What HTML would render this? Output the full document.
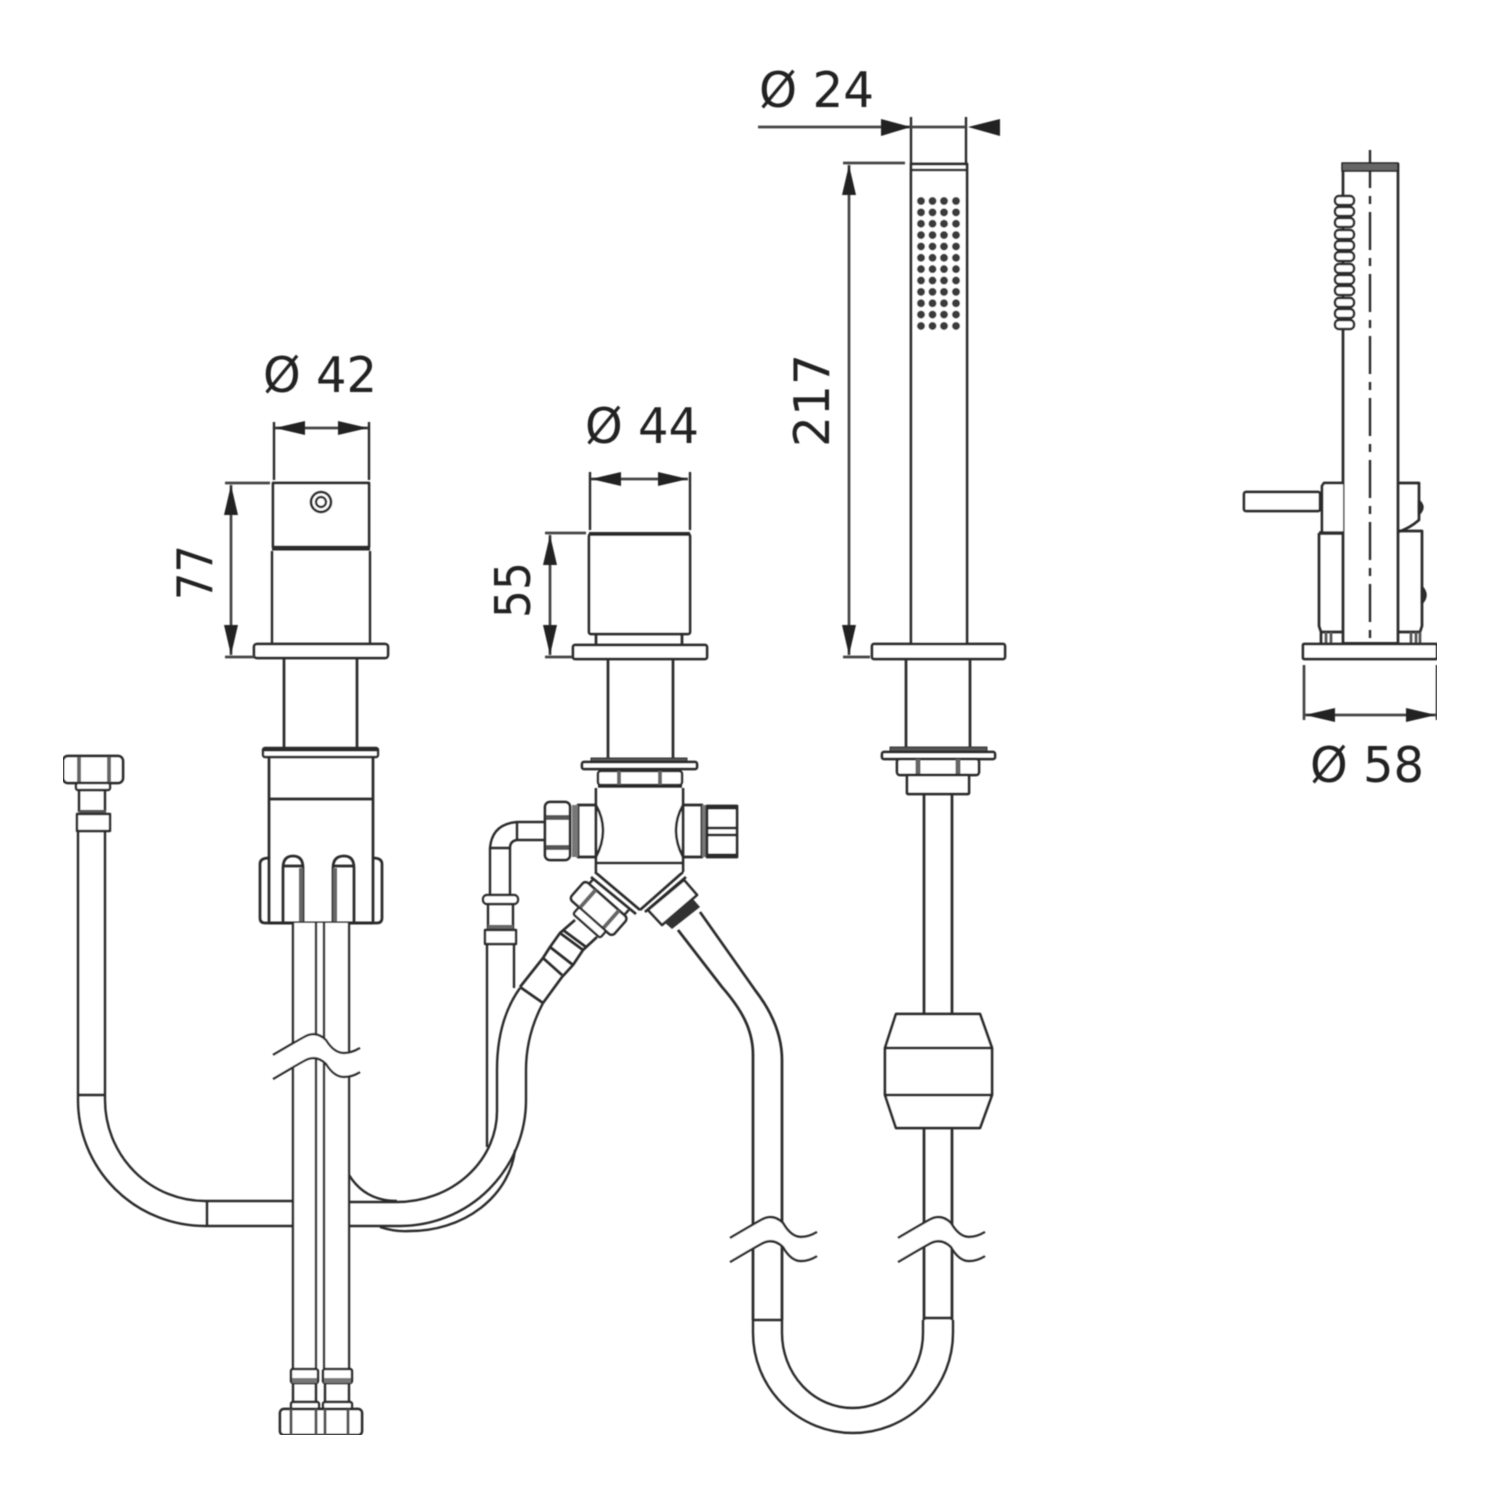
<!DOCTYPE html>
<html><head><meta charset="utf-8"><style>html,body{margin:0;padding:0;background:#fff}svg{display:block}text{font-family:"DejaVu Sans","Liberation Sans",sans-serif;font-size:49px;fill:#222}</style></head><body>
<svg width="1500" height="1500" viewBox="0 0 1500 1500" xmlns="http://www.w3.org/2000/svg">
<defs><filter id="soft" x="0" y="0" width="100%" height="100%"><feGaussianBlur stdDeviation="0.45"/></filter></defs>
<rect width="1500" height="1500" fill="#fff"/>
<g filter="url(#soft)">
<g fill="none" stroke="#2a2a2a" stroke-width="2.4" stroke-linejoin="round">

<!-- left flexible hose -->
<path d="M78 831V1100A127 126 0 0 0 205 1226H293M105 831V1100A100 101 0 0 0 205 1201H293M78 1095H105M207 1201V1226"/>
<path d="M349 1202H397A100 91 0 0 0 497 1110V1070Q497 1020 520 988"/>
<path d="M349 1175Q365 1201 397 1201M349 1226H400A126 126 0 0 0 526 1100V1070Q526 1035 543 1003"/>
<path d="M380 1227Q395 1232 410 1231A105 90 0 0 0 515 1150"/>
<path d="M487 944V1147M514 944V988"/>

<!-- left valve -->
<rect x="273" y="483" width="96" height="64" fill="#fff" stroke-width="2.7"/>
<path d="M274 422V480M369 422V480"/>
<path d="M272 549H370" stroke-width="3"/>
<path d="M272 551V645M370 551V645"/>
<circle cx="321" cy="502" r="10" stroke-width="2.7"/><circle cx="321" cy="502" r="5"/>
<rect x="254" y="644" width="134" height="14" rx="3" fill="#fff" stroke-width="2.7"/>
<path d="M284 658V748M357 658V748" stroke-width="2.7"/>
<rect x="263" y="748" width="115" height="9" rx="2" fill="#fff"/><path d="M263 749.500H378" stroke-width="4"/>
<path d="M269 757V923M373 757V923M269 799H373" stroke-width="2.7"/>
<path d="M269 858Q260 858 260 864V918Q260 923 265 923H377Q382 923 382 918V864Q382 858 373 858" stroke-width="2.7"/>
<path d="M283 923V868Q283 856 293 856Q303 856 303 868V923M283 866H303" stroke-width="2.7"/><path d="M301 868V923" stroke="#666" stroke-width="4"/>
<path d="M333 923V868Q333 856 344 856Q354 856 354 868V923M333 866H354" stroke-width="2.7"/><path d="M335 868V923" stroke="#666" stroke-width="4"/>
<path d="M269 923H373" stroke-width="3"/>

<!-- twin pipes -->
<rect x="293" y="923" width="56" height="446" fill="#fff" stroke="none"/>
<path d="M293 923V1369M316 923V1369M324 923V1369M349 923V1369"/>

<!-- twin connectors -->
<rect x="291" y="1369" width="27" height="14" rx="2" fill="#fff"/><rect x="292" y="1378" width="25" height="5" fill="#777" stroke="none"/>
<rect x="323" y="1369" width="29" height="14" rx="2" fill="#fff"/><rect x="324" y="1378" width="27" height="5" fill="#777" stroke="none"/>
<path d="M293 1383V1402M316 1383V1402M325 1383V1402M349 1383V1402"/>
<rect x="291" y="1402" width="28" height="7" rx="2" fill="#fff"/><rect x="323" y="1402" width="29" height="7" rx="2" fill="#fff"/>
<rect x="280" y="1409" width="82" height="26" rx="4" fill="#fff" stroke-width="2.7"/>
<path d="M291 1409V1435M316 1409V1435M325 1409V1435M348 1409V1435" stroke="#555" stroke-width="3"/>

<!-- top-left connector -->
<rect x="63" y="756" width="60" height="27" rx="5" fill="#fff" stroke-width="2.7"/>
<path d="M79 757V782M109 757V782" stroke="#666" stroke-width="4"/>
<rect x="76" y="783" width="34" height="7" rx="2" fill="#fff"/>
<path d="M79 790V812M105 790V812"/>
<rect x="79" y="810" width="27" height="4" fill="#555" stroke="none"/>
<rect x="77" y="814" width="33" height="17" fill="#fff"/>

<!-- elbow -->
<path d="M545 822H517Q492 824 490 848V895M545 840H517Q510 841 510 848V895M490 848H510M517 822V840"/>
<rect x="483" y="895" width="35" height="9" rx="4" fill="#fff"/>
<path d="M488 904V930M513 904V930"/>
<rect x="488" y="925" width="25" height="5" fill="#666" stroke="none"/>
<rect x="485" y="930" width="31" height="14" fill="#fff"/>

<!-- middle valve -->
<path d="M590 472V530M690 472V530"/>
<rect x="589" y="534" width="101" height="100" rx="2" fill="#fff" stroke-width="2.7"/><path d="M589 534H690" stroke-width="4"/>
<path d="M596 634V645M682 634V645" stroke-width="2.7"/>
<rect x="573" y="645" width="134" height="14" rx="2" fill="#fff" stroke-width="2.7"/>
<path d="M608 659V758M673 659V758" stroke-width="2.7"/>
<rect x="591" y="758" width="96" height="4" fill="#555" stroke="#333" stroke-width="1"/>
<rect x="582" y="762" width="115" height="7" rx="2" fill="#fff" stroke-width="2.7"/>
<rect x="598" y="771" width="84" height="14" rx="3" fill="#fff"/>
<path d="M619 771V785M660 771V785" stroke="#666" stroke-width="4"/>
<path d="M598 786.500H682" stroke-width="3.500"/>
<rect x="596" y="788" width="87" height="84" fill="#fff" stroke="none"/>
<path d="M596 788V872M683 788V872M596 863H683" stroke-width="2.7"/>
<path d="M596 805H578V857H596M596 805Q610 830 596 857" stroke-width="2.7"/>
<path d="M683 805H702V857H683M683 805Q669 830 683 857" stroke-width="2.7"/>
<rect x="572" y="805" width="6" height="52" fill="#777" stroke="none"/>
<rect x="702" y="805" width="5" height="52" fill="#777" stroke="none"/>
<rect x="545" y="802" width="25" height="58" rx="5" fill="#fff" stroke-width="2.7"/>
<rect x="546" y="815" width="23" height="5" fill="#555" stroke="none"/><rect x="546" y="845" width="23" height="5" fill="#555" stroke="none"/>
<rect x="707" y="806" width="30" height="51" fill="#fff" stroke-width="2.7"/>
<path d="M707 807.500H737M707 855.500H737" stroke-width="4"/>
<path d="M707 828H737M707 835H737" stroke-width="2.7"/>

<!-- Y left -->
<path d="M595 872L640 910M591 877L636 914" stroke-width="2.7"/>
<g transform="translate(617,890) rotate(41.5)">
<path d="M-25 7V14M22 7V14"/>
<rect x="-30" y="14" width="57" height="24" rx="4" fill="#fff" stroke-width="2.7"/>
<path d="M-16 14V38M15 14V38" stroke="#666" stroke-width="4"/>
<rect x="-17" y="38" width="36" height="9" rx="2" fill="#fff"/>
</g>
<path d="M575 920L560 933L550 947L543 958L520 987M597 937L583 950L573 965L562 977L543 1003" stroke-width="2.7"/>
<path d="M560 933L583 950M563 930L586 947M550 947L573 965M543 958L562 975M520 987L543 1003" stroke-width="2.7"/>

<!-- Y right -->
<path d="M683 872L640 910M686 877L645 912" stroke-width="2.7"/>
<path d="M648 910L662 925L697 895L684 880Z" fill="#fff" stroke-width="2.7"/>
<path d="M664 922L672 929L700 907L693 899Z" fill="#333" stroke="none"/>
<path d="M678 930L722 987C742 1010 753 1030 753 1055V1320M700 912L755 990C772 1012 782 1035 782 1060V1320" stroke-width="2.7"/>

<!-- U bend -->
<path d="M753 1320H782M923 1318H953"/>
<path d="M753 1320V1333A100 100 0 0 0 953 1333V1320"/>
<path d="M782 1320V1333A70.500 75 0 0 0 923 1333V1320"/>

<!-- right stem -->
<rect x="911" y="164" width="56" height="480" fill="#fff" stroke-width="2.7"/>
<path d="M911 170H967"/>
<path d="M911 117V164M966 117V164"/>
<g stroke="#3a3a3a" stroke-width="8" stroke-linecap="round" stroke-dasharray="0 11.36">
<path d="M921 201V330M932.500 201V330M944 201V330M956 201V330"/>
</g>
<rect x="872" y="644" width="133" height="15" rx="2" fill="#fff" stroke-width="2.7"/>
<path d="M906 659V747M970 659V747" stroke-width="2.7"/>
<rect x="890" y="747" width="97" height="5" fill="#555" stroke="#333" stroke-width="1"/>
<rect x="882" y="752" width="113" height="7" rx="2" fill="#fff" stroke-width="2.7"/>
<rect x="897" y="759" width="82" height="16" rx="3" fill="#fff" stroke-width="2.7"/>
<path d="M918 759V775M958 759V775" stroke="#666" stroke-width="5"/>
<rect x="907" y="775" width="62" height="19" rx="1" fill="#fff" stroke-width="2.7"/>
<path d="M924 794V1014M952 794V1014M924 1128V1320M952 1128V1320" stroke-width="2.7"/>
<path d="M896 1014H980L992 1048V1095L980 1128H896L885 1095V1048ZM885 1048H992M885 1095H992" fill="#fff" stroke-width="2.7"/>

<!-- side view -->
<path d="M1370 150V641" stroke-dasharray="38 8 8 8"/>
<path d="M1343 163V643M1398 163V643" stroke-width="2.7"/>
<rect x="1342" y="163" width="56" height="8" fill="#666" stroke="#222" stroke-width="1.500"/>
<g fill="#fff" stroke-width="2.4">
<rect x="1335" y="196" width="19" height="9" rx="4"/><rect x="1335" y="207" width="19" height="9" rx="4"/><rect x="1335" y="218" width="19" height="9" rx="4"/><rect x="1335" y="230" width="19" height="9" rx="4"/><rect x="1335" y="241" width="19" height="9" rx="4"/><rect x="1335" y="252" width="19" height="9" rx="4"/><rect x="1335" y="264" width="19" height="9" rx="4"/><rect x="1335" y="275" width="19" height="9" rx="4"/><rect x="1335" y="286" width="19" height="9" rx="4"/><rect x="1335" y="298" width="19" height="9" rx="4"/><rect x="1335" y="309" width="19" height="9" rx="4"/><rect x="1335" y="320" width="19" height="9" rx="4"/>
</g>
<rect x="1244" y="492" width="76" height="19" rx="2" fill="#fff" stroke-width="2.7"/>
<path d="M1320 492Q1325 502 1320 511" fill="#333"/>
<path d="M1343 483H1324L1322 486V533H1343" fill="#fff" stroke-width="2.7"/>
<path d="M1319 533H1343" stroke-width="3.500"/>
<path d="M1319 533V626L1321 632H1343M1321 632V643" stroke-width="2.7"/>
<path d="M1326 632V643M1331 632V643" stroke="#555" stroke-width="2.7"/>
<path d="M1398 483H1419V520Q1410 528 1398 532" stroke-width="2.7"/>
<path d="M1398 531H1422V626L1420 632H1398" stroke-width="2.7"/>
<path d="M1420 632V643M1411 632V643M1416 632V643" stroke="#555" stroke-width="2.7"/>
<path d="M1419 501Q1426 507 1419 514Z" fill="#333"/>
<path d="M1422 587Q1429 595 1422 603Z" fill="#333"/>
<rect x="1303" y="644" width="134" height="15" rx="1" fill="#fff" stroke-width="2.7"/>
<path d="M1343 643.500H1398" stroke-width="3"/>

<!-- break lines -->
<path d="M273 1055Q295 1042 304 1037Q316 1030 326 1040Q334 1053 344 1053Q352 1053 360 1048L360 1072Q352 1077 344 1077Q334 1077 326 1064Q316 1054 304 1061Q295 1066 273 1079Z" fill="#fff" stroke="none"/>
<path d="M273 1055Q295 1042 304 1037Q316 1030 326 1040Q334 1053 344 1053Q352 1053 360 1048M273 1079Q295 1066 304 1061Q316 1054 326 1064Q334 1077 344 1077Q352 1077 360 1072"/>
<path d="M730 1238Q752 1225 761 1220Q773 1213 783 1223Q791 1237 801 1237Q809 1237 817 1232L817 1256Q809 1261 801 1261Q791 1261 783 1247Q773 1237 761 1244Q752 1249 730 1262Z" fill="#fff" stroke="none"/>
<path d="M730 1238Q752 1225 761 1220Q773 1213 783 1223Q791 1237 801 1237Q809 1237 817 1232M730 1262Q752 1249 761 1244Q773 1237 783 1247Q791 1261 801 1261Q809 1261 817 1256"/>
<path d="M898 1238Q920 1225 929 1220Q941 1213 951 1223Q959 1237 969 1237Q977 1237 985 1232L985 1256Q977 1261 969 1261Q959 1261 951 1247Q941 1237 929 1244Q920 1249 898 1262Z" fill="#fff" stroke="none"/>
<path d="M898 1238Q920 1225 929 1220Q941 1213 951 1223Q959 1237 969 1237Q977 1237 985 1232M898 1262Q920 1249 929 1244Q941 1237 951 1247Q959 1261 969 1261Q977 1261 985 1256"/>

<!-- dimension lines -->
<g stroke="#444" stroke-width="2.7">
<path d="M758 127H911M911 127H966"/>
<path d="M843 163H905M843 657H870M849 165V655"/>
<path d="M275 428H368"/>
<path d="M225 483H270M225 657H254M231 485V655"/>
<path d="M591 479H688"/>
<path d="M545 533H586M545 657H572M550 535V655"/>
<path d="M1304 665V720M1437 665V720M1305 715H1436"/>
</g>
</g>
<!-- arrowheads -->
<g fill="#222">
<path d="M911 127L881 119V136Z"/><path d="M968 127L1000 119V136Z"/>
<path d="M849 165L842 195H856Z"/><path d="M849 655L842 625H856Z"/>
<path d="M275 428L305 421V435Z"/><path d="M368 428L338 421V435Z"/>
<path d="M231 485L224 515H238Z"/><path d="M231 655L224 625H238Z"/>
<path d="M591 479L621 472V486Z"/><path d="M688 479L658 472V486Z"/>
<path d="M550 535L543 565H557Z"/><path d="M550 655L543 625H557Z"/>
<path d="M1305 715L1335 708V722Z"/><path d="M1436 715L1406 708V722Z"/>
</g>
<text x="263" y="392" textLength="114" lengthAdjust="spacingAndGlyphs">Ø 42</text>
<text x="585" y="443" textLength="114" lengthAdjust="spacingAndGlyphs">Ø 44</text>
<text x="759" y="107" textLength="115" lengthAdjust="spacingAndGlyphs">Ø 24</text>
<text x="1310" y="782" textLength="114" lengthAdjust="spacingAndGlyphs">Ø 58</text>
<text transform="translate(212,600) rotate(-90)" textLength="55" lengthAdjust="spacingAndGlyphs">77</text>
<text transform="translate(530,618) rotate(-90)" textLength="56" lengthAdjust="spacingAndGlyphs">55</text>
<text transform="translate(829,447) rotate(-90)" textLength="93" lengthAdjust="spacingAndGlyphs">217</text>
</g>
</svg>
</body></html>
